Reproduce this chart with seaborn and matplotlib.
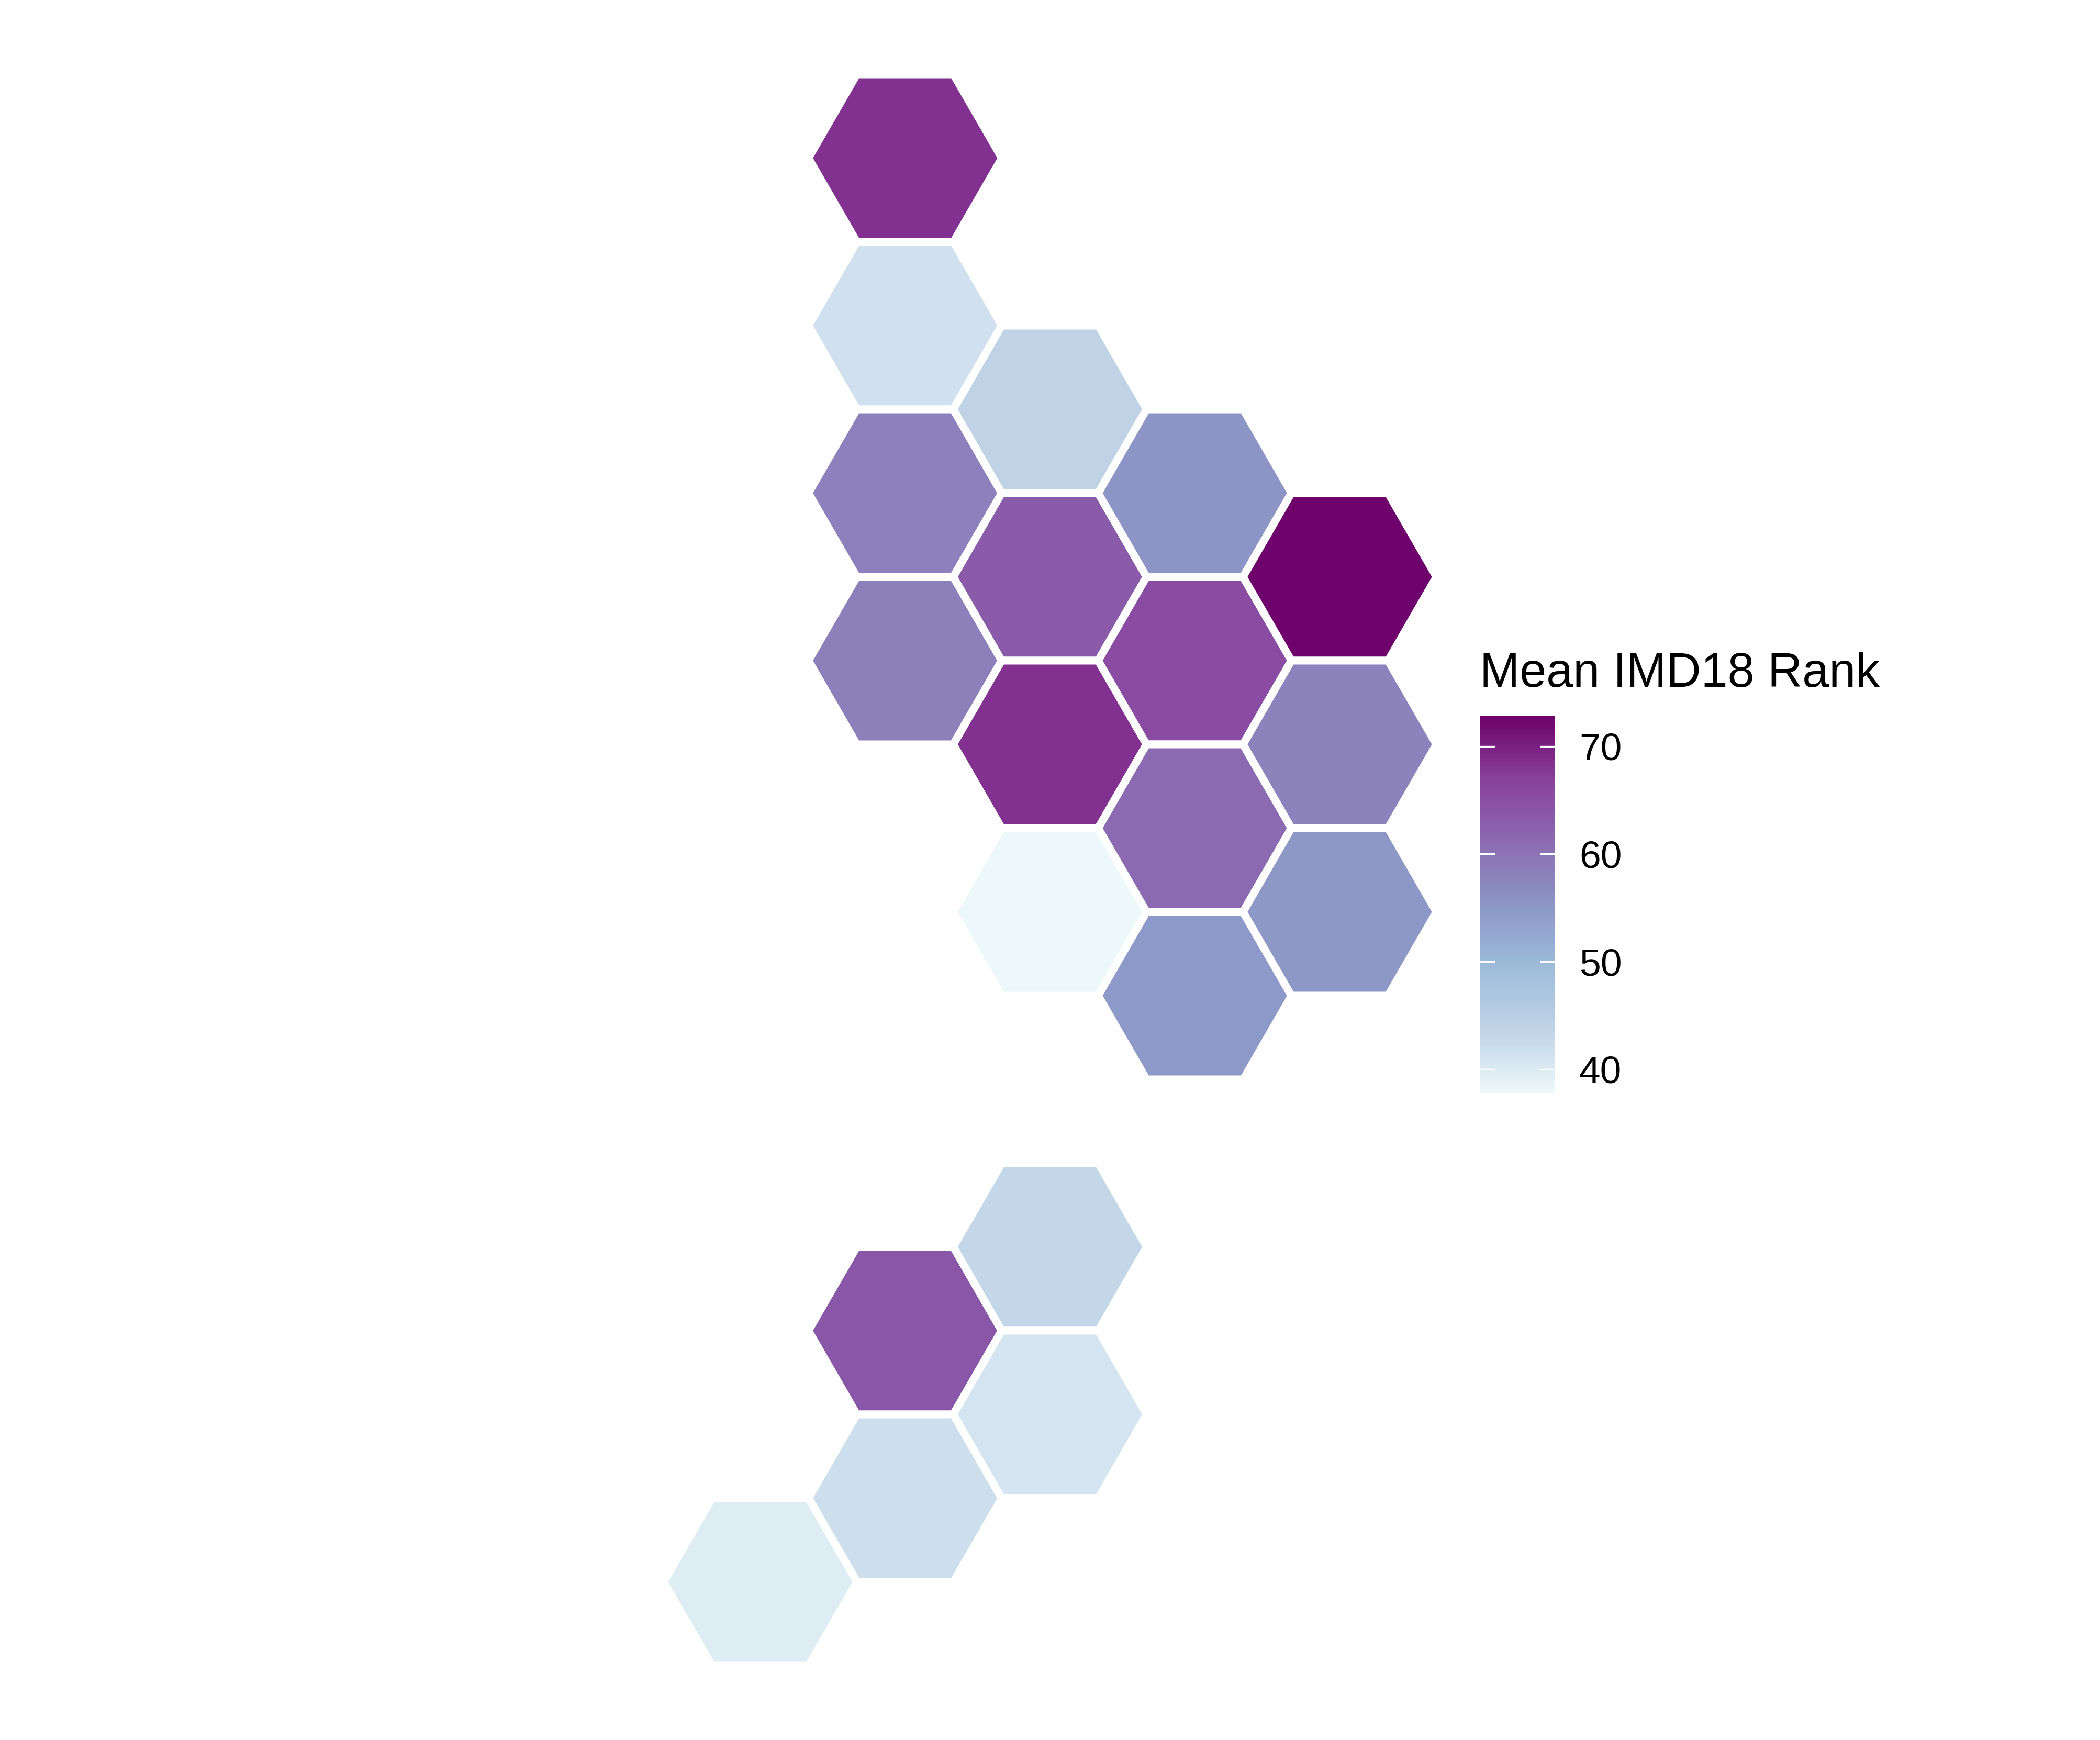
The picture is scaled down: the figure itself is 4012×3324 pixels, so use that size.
#!/usr/bin/env python3
import matplotlib
matplotlib.use("Agg")
import matplotlib.pyplot as plt
from matplotlib.cm import ScalarMappable
from matplotlib.colors import LinearSegmentedColormap, Normalize
import pandas as pd
import seaborn as sns

# Hex grid: column and height (in half rows, 0 = lowest hex)
hex_col = [1, 1, 1, 1, 1, 1,
           2, 2, 2, 2, 2, 2,
           3, 3, 3, 3,
           4, 4, 4,
           0]
hex_row = [17, 15, 13, 11, 3, 1,
           14, 12, 10, 8, 4, 2,
           13, 11, 9, 7,
           12, 10, 8,
           0]
imd_rank = [68.3, 41.6, 58.1, 58.2, 64.0, 42.0,
            43.6, 63.3, 68.3, 37.8, 43.0, 41.0,
            55.3, 65.3, 61.3, 54.8,
            72.8, 58.0, 55.0,
            39.8]

bupu_colors = ["#EDF8FB", "#BFD3E6", "#9EBCDA", "#8C96C6", "#8C6BB1", "#88419D", "#6E016B"]
rank_ticks = [40, 50, 60, 70]
rank_min, rank_max = 37.8, 72.8


def main():
    W, H = 4012, 3324
    dpi = 300
    sns.set_theme(style="white")
    plt.rcParams["font.family"] = ["Liberation Sans", "DejaVu Sans"]

    df = pd.DataFrame({"col": hex_col, "row": hex_row, "rank": imd_rank})
    cmap = LinearSegmentedColormap.from_list("bupu7", bupu_colors)
    norm = Normalize(rank_min, rank_max)

    fig = plt.figure(figsize=(W / dpi, H / dpi), dpi=dpi, facecolor="white")
    ax = fig.add_axes([0, 0, 1, 1])

    # pixels per data unit, and where column 0 / row 0 sit in the image
    col_px, row_px = 276.75, 160.0
    x0, y0 = 1452.5, 3022.0
    sns.scatterplot(
        data=df, x="col", y="row", hue="rank", palette=cmap, hue_norm=norm,
        marker="H", s=(2 * row_px / 3 ** 0.5 * 2 * 72 / dpi) ** 2,
        edgecolor="white", linewidth=3.6, legend=False, ax=ax,
    )
    ax.set_xlim(-x0 / col_px, (W - x0) / col_px)
    ax.set_ylim(-(H - y0) / row_px, y0 / row_px)
    ax.set_axis_off()

    # Colour bar legend
    cax = fig.add_axes([2827 / W, 1 - 2088 / H, 144 / W, 720 / H])
    cbar = fig.colorbar(ScalarMappable(norm=norm, cmap=cmap), cax=cax, ticks=rank_ticks)
    cbar.outline.set_visible(False)
    cax.set_axisbelow(False)  # seaborn theme puts ticks under the gradient
    cax.tick_params(axis="y", which="major", left=True, right=True, direction="in",
                    color="white", length=7, width=0.8, pad=11, labelsize=17.6,
                    labelcolor="black")
    cax.minorticks_off()
    cax.set_title("Mean IMD18 Rank", loc="left", fontsize=22, color="black", pad=13.4)

    fig.savefig("out.png", dpi=dpi, facecolor="white")


if __name__ == "__main__":
    main()
